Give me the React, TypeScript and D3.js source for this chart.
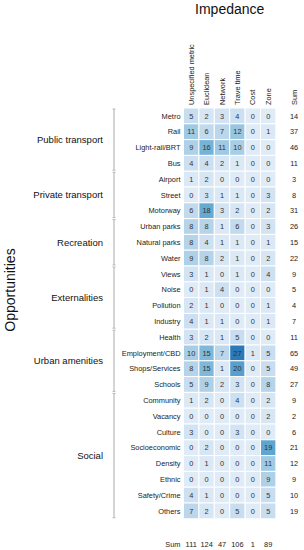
import React from 'react';
import * as d3 from 'd3';

const impedances = ['Unspecified metric', 'Euclidean', 'Network', 'Trave time', 'Cost', 'Zone'];

const opportunities = [
  'Metro', 'Rail', 'Light-rail/BRT', 'Bus',
  'Airport', 'Street', 'Motorway',
  'Urban parks', 'Natural parks', 'Water',
  'Views', 'Noise', 'Pollution', 'Industry',
  'Health', 'Employment/CBD', 'Shops/Services', 'Schools',
  'Community', 'Vacancy', 'Culture', 'Socioeconomic', 'Density', 'Ethnic', 'Safety/Crime', 'Others',
];

const groups = ['Public transport', 'Private transport', 'Recreation', 'Externalities', 'Urban amenities', 'Social'];
const groupSizes = [4, 3, 3, 4, 4, 8];

const counts = [
  [5, 2, 3, 4, 0, 0],
  [11, 6, 7, 12, 0, 1],
  [9, 16, 11, 10, 0, 0],
  [4, 4, 2, 1, 0, 0],
  [1, 2, 0, 0, 0, 0],
  [0, 3, 1, 1, 0, 3],
  [6, 18, 3, 2, 0, 2],
  [8, 8, 1, 6, 0, 3],
  [8, 4, 1, 1, 0, 1],
  [9, 8, 2, 1, 0, 2],
  [3, 1, 0, 1, 0, 4],
  [0, 1, 4, 0, 0, 0],
  [2, 1, 0, 0, 0, 1],
  [4, 1, 1, 0, 0, 1],
  [3, 2, 1, 5, 0, 0],
  [10, 15, 7, 27, 1, 5],
  [8, 15, 1, 20, 0, 5],
  [5, 9, 2, 3, 0, 8],
  [1, 2, 0, 4, 0, 2],
  [0, 0, 0, 0, 0, 2],
  [3, 0, 0, 3, 0, 0],
  [0, 2, 0, 0, 0, 19],
  [0, 1, 0, 0, 0, 11],
  [0, 0, 0, 0, 0, 9],
  [4, 1, 0, 0, 0, 5],
  [7, 2, 0, 5, 0, 5],
];

const rowSums = [14, 37, 46, 11, 3, 8, 31, 26, 15, 22, 9, 5, 4, 7, 11, 65, 49, 27, 9, 2, 6, 21, 12, 9, 10, 19];
const colSums = [111, 124, 47, 106, 1, 89];

const W = 304;
const H = 550;
const FONT = '"Liberation Sans", Arial, Helvetica, sans-serif';
const grid = { left: 183.5, top: 108, colW: 15.4, rowH: 15.8 };

export default function App() {
  const x = d3
    .scaleBand()
    .domain(impedances)
    .range([grid.left, grid.left + grid.colW * impedances.length]);
  const y = d3
    .scaleBand()
    .domain(opportunities)
    .range([grid.top, grid.top + grid.rowH * opportunities.length]);

  // light blue for zero up to a medium-dark blue at the max count
  const color = d3
    .scaleSequential((t: number) => d3.interpolateBlues(0.12 + t * 0.6))
    .domain([0, 27]);

  const gridRight = grid.left + grid.colW * impedances.length;
  const gridBottom = grid.top + grid.rowH * opportunities.length;
  const sumX = 294;

  // group spans
  let start = 0;
  const groupSpans = groups.map((g, i) => {
    const s = start;
    start += groupSizes[i];
    const y0 = y(opportunities[s]) as number;
    const y1 = (y(opportunities[start - 1]) as number) + y.bandwidth();
    return { name: g, y0, y1 };
  });

  return (
    <svg
      width={W}
      height={H}
      style={{ position: 'absolute', left: 0, top: 0, background: '#fff' }}
      fontFamily={FONT}
    >
      <text x={(grid.left + gridRight) / 2} y={14} textAnchor="middle" fontSize={14} fill="#111">
        Impedance
      </text>

      {impedances.map((c) => (
        <text
          key={c}
          transform={`translate(${(x(c) as number) + x.bandwidth() / 2 + 2.6},${grid.top - 3}) rotate(-90)`}
          fontSize={7.4}
          fill="#222"
        >
          {c}
        </text>
      ))}
      <text transform={`translate(${sumX + 2.6},${grid.top - 3}) rotate(-90)`} fontSize={7.4} fill="#222">
        Sum
      </text>

      {counts.map((row, ri) =>
        row.map((v, ci) => (
          <g key={`${ri}-${ci}`}>
            <rect
              x={x(impedances[ci]) as number}
              y={y(opportunities[ri]) as number}
              width={x.bandwidth()}
              height={y.bandwidth()}
              fill={color(v)}
              stroke="#fff"
              strokeWidth={1}
            />
            <text
              x={(x(impedances[ci]) as number) + x.bandwidth() / 2}
              y={(y(opportunities[ri]) as number) + y.bandwidth() / 2 + 2.6}
              textAnchor="middle"
              fontSize={7.4}
              fill="#333"
            >
              {v}
            </text>
          </g>
        ))
      )}

      {opportunities.map((o, ri) => (
        <g key={o}>
          <text
            x={grid.left - 3}
            y={(y(o) as number) + y.bandwidth() / 2 + 2.6}
            textAnchor="end"
            fontSize={7.4}
            fill="#222"
          >
            {o}
          </text>
          <text
            x={sumX}
            y={(y(o) as number) + y.bandwidth() / 2 + 2.6}
            textAnchor="middle"
            fontSize={7.4}
            fill="#222"
          >
            {rowSums[ri]}
          </text>
        </g>
      ))}

      <text x={grid.left - 3} y={gridBottom + 28.5} textAnchor="end" fontSize={7.4} fill="#222">
        Sum
      </text>
      {colSums.map((s, ci) => (
        <text
          key={ci}
          x={(x(impedances[ci]) as number) + x.bandwidth() / 2}
          y={gridBottom + 28.5}
          textAnchor="middle"
          fontSize={7.4}
          fill="#222"
        >
          {s}
        </text>
      ))}

      {groupSpans.map((g) => (
        <g key={g.name}>
          <line x1={114} x2={114} y1={g.y0 + 1} y2={g.y1 - 1} stroke="#aaa" strokeWidth={1} />
          <line x1={112.5} x2={115.5} y1={g.y0 + 1} y2={g.y0 + 1} stroke="#aaa" strokeWidth={0.8} />
          <line x1={112.5} x2={115.5} y1={g.y1 - 1} y2={g.y1 - 1} stroke="#aaa" strokeWidth={0.8} />
          <text x={103} y={(g.y0 + g.y1) / 2 + 3.3} textAnchor="end" fontSize={9.5} fill="#111">
            {g.name}
          </text>
        </g>
      ))}

      <text
        transform={`translate(15,${290}) rotate(-90)`}
        textAnchor="middle"
        fontSize={14}
        fill="#111"
      >
        Opportunities
      </text>
    </svg>
  );
}
